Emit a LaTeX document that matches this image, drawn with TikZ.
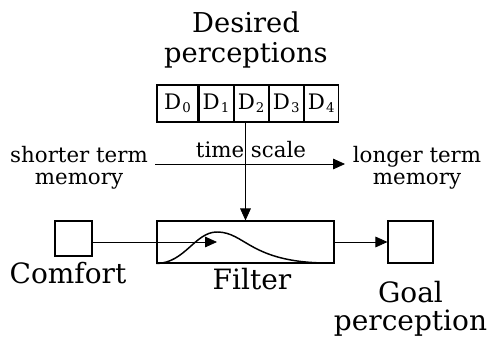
\documentclass[tikz,border=0pt]{standalone}
\usepackage{fontspec}
\setmainfont{DejaVu Serif}
\usepackage{tikz}
\usetikzlibrary{arrows.meta, positioning}
\tikzset{
  cell/.style={rectangle, draw, minimum width=25.5pt, minimum height=27.75pt,
    inner sep=0pt, line width=0.8pt, font=\fontsize{16}{18}\selectfont},
  box/.style={rectangle, draw, inner sep=0pt, line width=0.8pt},
  arrow/.style={-{Triangle[length=9pt, width=8pt]}, line width=0.6pt},
  bigtext/.style={align=center, font=\fontsize{20.5}{22.5}\selectfont},
  midtext/.style={align=center, font=\fontsize{21}{21}\selectfont},
  smalltext/.style={align=center, font=\fontsize{16}{16.5}\selectfont}
}
\newcommand{\dsub}[1]{D\kern0.8pt\raisebox{-0.3ex}{\fontsize{10}{10}\selectfont #1}}

\begin{document}
\begin{tikzpicture}[x=0.75pt, y=-0.75pt]
  \useasboundingbox (0,0) rectangle (487,338);

  % Desired perceptions
  \node[bigtext, anchor=base] (title) at (246,63) {Desired\\perceptions};
  \node[cell, minimum width=30.75pt] (d0) at (177.5,103.5) {\dsub{0}};
  \node[cell, right=0pt of d0] (d1) {\dsub{1}};
  \node[cell, right=0pt of d1] (d2) {\dsub{2}};
  \node[cell, right=0pt of d2] (d3) {\dsub{3}};
  \node[cell, right=0pt of d3] (d4) {\dsub{4}};

  % time scale
  \node[smalltext, anchor=base] (shorter) at (79,185) {shorter term\\memory};
  \node[smalltext, anchor=base] (longer) at (417,185) {longer term\\memory};
  \node[smalltext, anchor=base, inner sep=0pt] (tscale) at (251,158) {time scale};
  \coordinate (tsA) at (155,164);
  \coordinate (tsB) at (345,164);
  \draw[arrow] (tsA) -- (tsB);

  % Comfort, Filter, Goal
  \node[box, minimum width=27.75pt, minimum height=26.25pt] (comfort) at (73.5,238.5) {};
  \node[box, minimum width=132.75pt, minimum height=31.5pt] (filter) at (245.5,242) {};
  \node[box, minimum width=33.75pt, minimum height=31.5pt] (goal) at (410.5,242) {};
  \node[midtext, anchor=base] (comfortlbl) at (68,284) {Comfort};
  \node[midtext, anchor=base] (filterlbl) at (252,290) {Filter};
  \node[midtext, anchor=base] (goallbl) at (410.5,331) {Goal\\perception};

  % filter curve
  \draw[line width=1.1pt] (filter.south west) .. controls (185,263) and (195,232) .. (217,232)
    .. controls (245,232) and (250,262) .. (325,263);

  % connectors
  \coordinate (cfin) at (217,242);
  \draw[arrow] (d2.south -| filter.north) -- (filter.north);
  \draw[arrow] (comfort.east |- cfin) -- (cfin);
  \draw[arrow] (filter.east) -- (goal.west);
\end{tikzpicture}
\end{document}
